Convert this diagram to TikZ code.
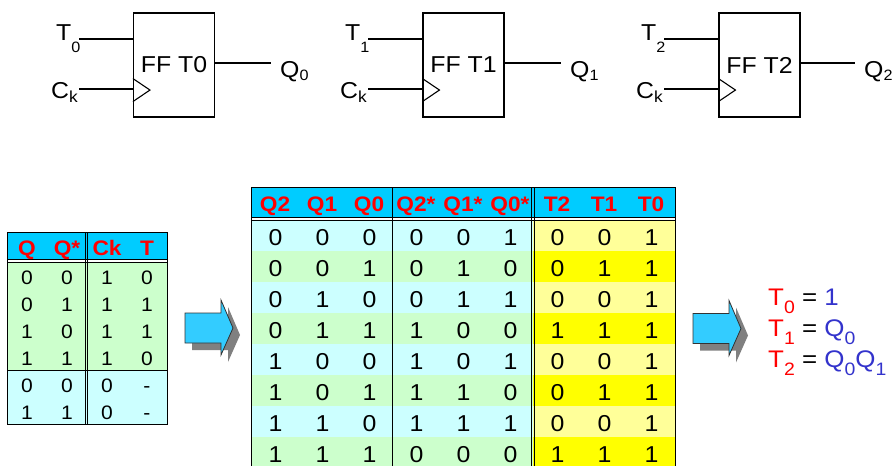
\documentclass[tikz,border=0pt]{standalone}
\usepackage{fontspec}
\setmainfont{Liberation Sans}[FakeStretch=1.08]
\usetikzlibrary{calc}
\definecolor{hdr}{RGB}{0,204,255}
\definecolor{lcyan}{RGB}{204,255,255}
\definecolor{lgreen}{RGB}{204,255,204}
\definecolor{lyel}{RGB}{255,255,153}
\definecolor{yel}{RGB}{255,255,0}
\definecolor{arrowblue}{RGB}{51,204,255}
\definecolor{eqblue}{RGB}{51,51,204}
\definecolor{shadowgray}{RGB}{128,128,128}
\newcommand\dn[3]{\raisebox{-#1pt}{\fontsize{#2}{#2}\selectfont #3}}
\tikzset{
  wire/.style={line width=1.1pt},
  ffbox/.style={draw, line width=1.1pt, minimum width=81pt, minimum height=104pt, inner sep=0pt, font=\fontsize{23}{23}\selectfont},
  lbl/.style={inner sep=0pt, font=\fontsize{23}{23}\selectfont},
  hdrtxt/.style={inner sep=0pt, anchor=base, text=red, font=\fontsize{21}{21}\selectfont\bfseries},
  cell/.style={inner sep=0pt, anchor=base, font=\fontsize{23}{23}\selectfont},
  scell/.style={inner sep=0pt, anchor=base, font=\fontsize{19.5}{19.5}\selectfont},
  grid/.style={line width=1pt},
  eqtxt/.style={inner sep=0pt, anchor=base west, font=\fontsize{24}{24}\selectfont},
  blockarrow/.style={fill=arrowblue, draw=black!80, line width=0.8pt},
  arrowshadow/.style={fill=shadowgray}
}
\begin{document}
\begin{tikzpicture}[x=1pt,y=-1pt]
\useasboundingbox (0,0) rectangle (895,466);

% ---------- flip-flops ----------
\foreach \n/\cx/\lx/\ox in {0/174/79/271,1/463.5/368/561,2/759.5/664/855}{
  \node[ffbox] (ff\n) at (\cx,65) {FF T\n};
  \coordinate (tin\n) at (\lx,39);
  \coordinate (ckin\n) at (\lx,89);
  \coordinate (qout\n) at (\ox,63);
  \draw[wire] (tin\n) -- (tin\n -| ff\n.west);
  \draw[wire] (ckin\n) -- (ckin\n -| ff\n.west);
  \draw[wire] (qout\n -| ff\n.east) -- (qout\n);
  \draw[wire] ($(ff\n.south west)+(0,-39)$) -- ($(ff\n.south west)+(17,-27.5)$) -- ($(ff\n.south west)+(0,-16)$);
  \node[lbl, anchor=base east] (tl\n) at ($(tin\n)+(1.5,1)$) {T\dn{12}{15}{\n}};
  \node[lbl, anchor=base east] (cl\n) at ($(ckin\n)+(-1,9)$) {C\dn{4}{16}{k}};
  \node[lbl, anchor=base west] (ql\n) at ($(qout\n)+(9,14)$) {Q\dn{3}{15}{\n}};
}

% ---------- small table ----------
\fill[hdr] (7,232) rectangle (167,259);
\fill[lgreen] (7,262) rectangle (167,370);
\fill[lcyan] (7,370) rectangle (167,424);
\draw[grid] (7,232) rectangle (167,424);
\draw[grid] (7,259) -- (167,259);
\draw[grid] (7,262) -- (167,262);
\draw[grid] (7,370) -- (167,370);
\draw[grid] (85,232) -- (85,424);
\draw[grid] (87.5,232) -- (87.5,424);
\foreach \h [count=\j from 0] in {Q,Q*,Ck,T}{
  \node[hdrtxt] (sh\j) at (27+40*\j,255) {\h};
}
\foreach \row [count=\i from 0] in {{0,0,1,0},{0,1,1,1},{1,0,1,1},{1,1,1,0},{0,0,0,-},{1,1,0,-}}{
  \foreach \v [count=\j from 0] in \row {
    \node[scell] (s\i\j) at (27+40*\j,284+27*\i) {\v};
  }
}

% ---------- arrows ----------
\foreach \ax/\ay/\nm in {185/328/arrA,693/328.5/arrB}{
  \begin{scope}[shift={(\ax+7,\ay+7)}]
    \fill[arrowshadow] (0,-15) -- (36,-15) -- (36,-28) -- (48,0) -- (36,27) -- (36,15) -- (0,15) -- cycle;
  \end{scope}
  \begin{scope}[shift={(\ax,\ay)}]
    \path[blockarrow] (0,-15) -- (36,-15) -- (36,-28) -- (48,0) -- (36,27) -- (36,15) -- (0,15) -- cycle;
    \coordinate (\nm) at (24,0);
  \end{scope}
}

% ---------- big table ----------
\fill[hdr] (251,187) rectangle (675,217);
\foreach \i in {0,2,4,6}{
  \fill[lcyan] (251,220+31*\i) rectangle (533,251+31*\i);
  \fill[lyel] (533,220+31*\i) rectangle (675,251+31*\i);
}
\foreach \i in {1,3,5,7}{
  \fill[lgreen] (251,220+31*\i) rectangle (533,251+31*\i);
  \fill[yel] (533,220+31*\i) rectangle (675,251+31*\i);
}
\draw[grid] (251,470) -- (251,187) -- (675,187) -- (675,470);
\draw[grid] (251,217) -- (675,217);
\draw[grid] (251,220) -- (675,220);
\draw[grid] (392,187) -- (392,470);
\draw[grid] (531.8,187) -- (531.8,470);
\draw[grid] (534.5,187) -- (534.5,470);
\foreach \h [count=\j from 0] in {Q2,Q1,Q0,Q2*,Q1*,Q0*,T2,T1,T0}{
  \node[hdrtxt] (bh\j) at (275+47*\j,211.5) {\h};
}
\foreach \row [count=\i from 0] in {
  {0,0,0,0,0,1,0,0,1},
  {0,0,1,0,1,0,0,1,1},
  {0,1,0,0,1,1,0,0,1},
  {0,1,1,1,0,0,1,1,1},
  {1,0,0,1,0,1,0,0,1},
  {1,0,1,1,1,0,0,1,1},
  {1,1,0,1,1,1,0,0,1},
  {1,1,1,0,0,0,1,1,1}}{
  \foreach \v [count=\j from 0] in \row {
    \node[cell] (b\i-\j) at (275.5+47*\j,245+31*\i) {\v};
  }
}

% ---------- equations ----------
\node[eqtxt] (eq0) at (768,305) {\textcolor{red}{T\dn{8}{18}{0}} = \textcolor{eqblue}{1}};
\node[eqtxt] (eq1) at (768,336) {\textcolor{red}{T\dn{8}{18}{1}} = \textcolor{eqblue}{Q\dn{8}{18}{0}}};
\node[eqtxt] (eq2) at (768,367) {\textcolor{red}{T\dn{8}{18}{2}} = \textcolor{eqblue}{Q\dn{8}{18}{0}Q\dn{8}{18}{1}}};
\end{tikzpicture}
\end{document}
